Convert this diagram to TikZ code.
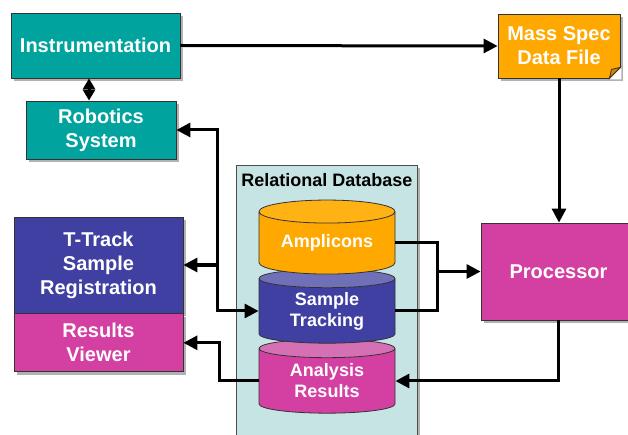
\documentclass[tikz,border=0pt]{standalone}
\usepackage{fontspec}
\setmainfont{Liberation Sans}
\usetikzlibrary{calc,positioning,shapes.geometric,shadows,arrows.meta}

\definecolor{instteal}{RGB}{0,163,158}
\definecolor{specorange}{RGB}{255,168,0}
\definecolor{specorangeend}{RGB}{255,178,20}
\definecolor{folddark}{RGB}{214,130,0}
\definecolor{trackblue}{RGB}{64,64,162}
\definecolor{trackblueend}{RGB}{112,112,184}
\definecolor{procpink}{RGB}{212,64,162}
\definecolor{procpinkend}{RGB}{214,112,180}
\definecolor{dbcyan}{RGB}{198,228,228}

\tikzset{
  >={Triangle[length=14pt,width=14pt]},
  shade/.style={drop shadow={shadow xshift=3pt, shadow yshift=-3pt,
      opacity=.3, fill=black}},
  box/.style={
    rectangle,
    draw=black!80, thick,
    text=white,
    font=\fontsize{20}{24}\selectfont\bfseries,
    align=center,
    inner sep=0pt,
    shade},
  dbcyl/.style={
    cylinder, shape border rotate=90, aspect=.25,
    draw=black!80, thick,
    cylinder uses custom fill,
    minimum width=136pt, minimum height=74pt,
    text=white,
    font=\fontsize{18}{21}\selectfont\bfseries,
    align=center,
    inner sep=0pt},
  line/.style={draw, line width=3pt},
}

\begin{document}
\begin{tikzpicture}[x=1pt,y=-1pt]
  \path[use as bounding box] (0,0) rectangle (628,435);

  % instrument side
  \node[box, fill=instteal, minimum width=169pt, minimum height=65pt]
      (instr) at (95.5,45.5) {Instrumentation};
  \node[box, fill=instteal, minimum width=150pt, minimum height=58pt]
      (robotics) at (101,130) {Robotics\\System};
  \node[box, fill=specorange, minimum width=122pt, minimum height=64pt]
      (massspec) at (559,46) {Mass Spec\\Data File};
  %% dog-ear on the data file
  \fill[white] ($(massspec.south east)+(-11,1)$) -- ($(massspec.south east)+(1,1)$)
      -- ($(massspec.south east)+(1,-11)$) -- cycle;
  \filldraw[fill=folddark, draw=black!80, thick]
      ($(massspec.south east)+(-11,0)$) -- ($(massspec.south east)+(0,-11)$)
      -- ($(massspec.south east)+(-9,-9)$) -- cycle;
  \node[box, fill=procpink, minimum width=155pt, minimum height=97pt]
      (proc) at (558.5,271.5) {Processor};

  % user side
  \node[box, fill=trackblue, minimum width=169pt, minimum height=96pt]
      (ttrack) at (98.5,265) {T-Track\\Sample\\Registration};
  \node[box, fill=procpink, minimum width=169pt, minimum height=58pt,
      below=0pt of ttrack] (viewer) {Results\\Viewer};

  % the database with its three tables
  \node[rectangle, draw=black!70, thick, fill=dbcyan, shade,
      minimum width=181pt, minimum height=280pt, anchor=north west]
      (reldb) at (236,165) {};
  \node[anchor=north, font=\fontsize{18}{21}\selectfont\bfseries]
      (reldbtitle) at ([yshift=-5pt]reldb.north) {Relational Database};
  \node[dbcyl, cylinder body fill=procpink, cylinder end fill=procpinkend]
      (analysis) at (327,381) {Analysis\\Results};
  \node[dbcyl, cylinder body fill=trackblue, cylinder end fill=trackblueend]
      (sample) at (327,311) {Sample\\Tracking};
  \node[dbcyl, cylinder body fill=specorange, cylinder end fill=specorangeend]
      (ampl) at (327,243) {Amplicons};

  % connectors
  \coordinate (instrx) at (89,0);
  \coordinate (busx) at (217,0);
  \coordinate (merge) at ([xshift=-43pt]proc.west);
  \draw[line, ->] (instr.east) -- (massspec.west);
  \draw[line, <->, >={Triangle[length=11pt,width=12pt]}]
      (instr.south -| instrx) -- (robotics.north -| instrx);
  \draw[line, ->] (massspec.south) -- (massspec.south |- proc.north);
  \draw[line] (ampl.east) -| (merge) |- (sample.east);
  \draw[line, ->] (merge) -- (proc.west);
  \draw[line, ->] (proc.south) |- (analysis.east);
  \draw[line, ->] (analysis.west) -- ++(-39,0) |- (viewer.east);
  \draw[line, <->] (robotics.east) -- (robotics.east -| busx)
      -- (sample.west -| busx) -- (sample.west);
  \draw[line, ->] (ttrack.east -| busx) -- (ttrack.east);
\end{tikzpicture}
\end{document}
